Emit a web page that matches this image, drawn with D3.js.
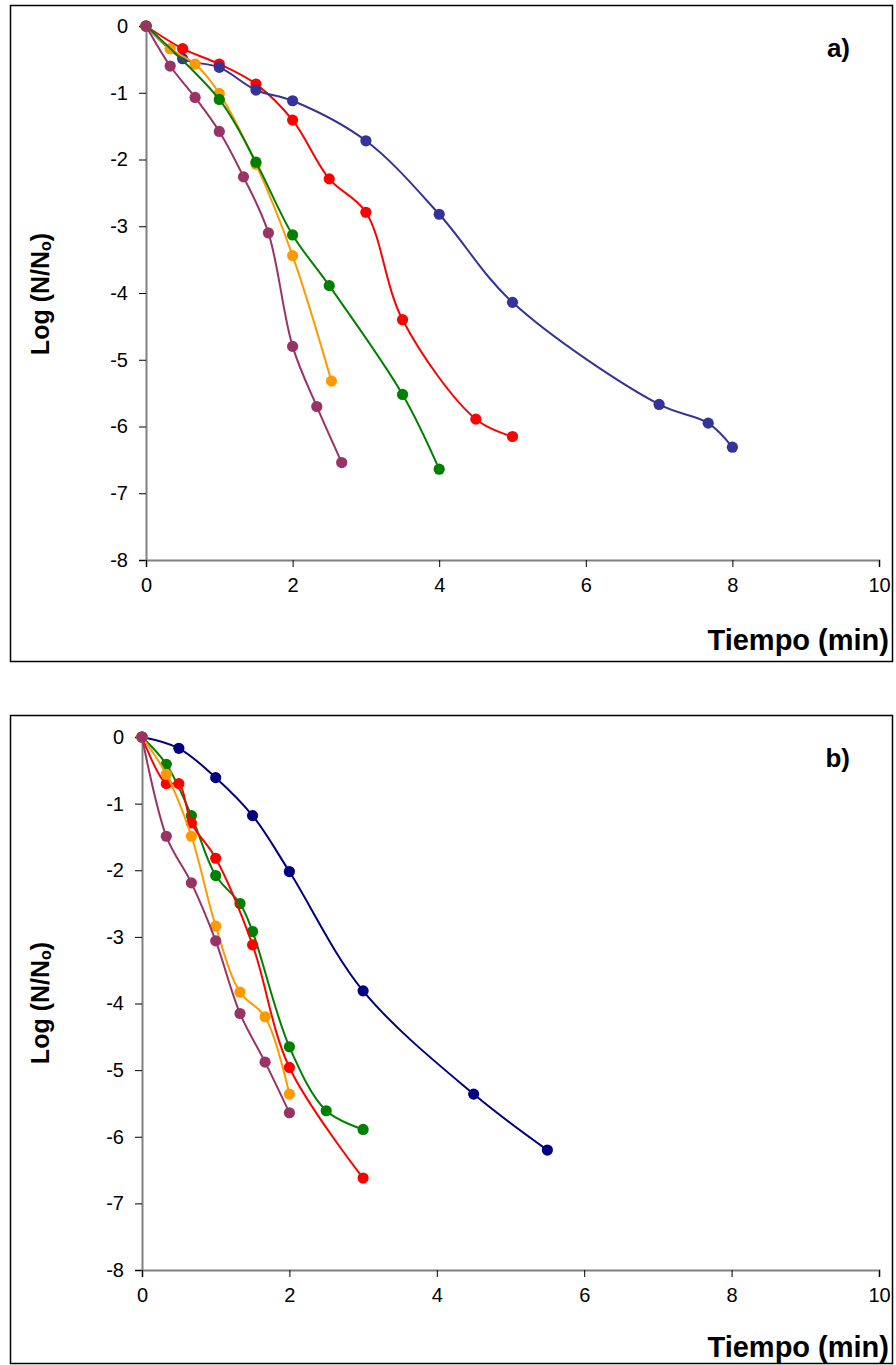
<!DOCTYPE html>
<html>
<head>
<meta charset="utf-8">
<script src="https://cdn.jsdelivr.net/npm/d3@7/dist/d3.min.js"></script>
<style>
  html, body { margin: 0; padding: 0; background: #fff; }
  svg { display: block; font-family: "Liberation Sans", Arial, sans-serif; }
</style>
</head>
<body>
<svg id="chart" width="896" height="1365"></svg>
<script>
// ---------- Data ----------
const xTicks = [0, 2, 4, 6, 8, 10];
const yTicks = [0, -1, -2, -3, -4, -5, -6, -7, -8];

// Panel a)
const aBlueX   = [0, 0.5, 1, 1.5, 2, 3, 4, 5, 7, 7.67, 8];
const aBlueY   = [0, -0.49, -0.62, -0.96, -1.12, -1.72, -2.82, -4.14, -5.67, -5.95, -6.31];
const aRedX    = [0, 0.5, 1, 1.5, 2, 2.5, 3, 3.5, 4.5, 5];
const aRedY    = [0, -0.34, -0.57, -0.87, -1.41, -2.29, -2.79, -4.40, -5.89, -6.15];
const aGreenX  = [0, 1, 1.5, 2, 2.5, 3.5, 4];
const aGreenY  = [0, -1.10, -2.04, -3.13, -3.89, -5.52, -6.64];
const aOrangeX = [0, 0.33, 0.67, 1, 1.5, 2, 2.53];
const aOrangeY = [0, -0.34, -0.57, -1.01, -2.07, -3.44, -5.32];
const aPurpleX = [0, 0.33, 0.67, 1, 1.33, 1.67, 2, 2.33, 2.67];
const aPurpleY = [0, -0.60, -1.07, -1.58, -2.26, -3.10, -4.80, -5.70, -6.54];

// Panel b)
const bNavyX   = [0, 0.5, 1, 1.5, 2, 3, 4.5, 5.5];
const bNavyY   = [0, -0.17, -0.61, -1.18, -2.02, -3.81, -5.36, -6.20];
const bRedX    = [0, 0.33, 0.5, 0.67, 1, 1.5, 2, 3];
const bRedY    = [0, -0.70, -0.70, -1.29, -1.82, -3.12, -4.96, -6.62];
const bGreenX  = [0, 0.33, 0.67, 1, 1.33, 1.5, 2, 2.5, 3];
const bGreenY  = [0, -0.41, -1.18, -2.08, -2.50, -2.92, -4.65, -5.61, -5.89];
const bOrangeX = [0, 0.33, 0.67, 1, 1.33, 1.67, 2];
const bOrangeY = [0, -0.56, -1.49, -2.84, -3.83, -4.20, -5.36];
const bPurpleX = [0, 0.33, 0.67, 1, 1.33, 1.67, 2];
const bPurpleY = [0, -1.49, -2.19, -3.06, -4.15, -4.88, -5.64];

const zip = (xs, ys) => xs.map((x, i) => ({x, y: ys[i]}));

const panels = [
  {
    label: "a)",
    box: {x: 10.5, y: 5.5, w: 882, h: 656},
    xr: [146, 879], yr: [26, 560],
    labelPos: [850, 57], titlePos: [889, 650], yTitlePos: [49, 294],
    series: [
      {color: "#ff0000", pts: zip(aRedX, aRedY)},
      {color: "#333399", pts: zip(aBlueX, aBlueY)},
      {color: "#ff9900", pts: zip(aOrangeX, aOrangeY)},
      {color: "#008000", pts: zip(aGreenX, aGreenY)},
      {color: "#993366", pts: zip(aPurpleX, aPurpleY)}
    ]
  },
  {
    label: "b)",
    box: {x: 10.5, y: 715.5, w: 882, h: 648},
    xr: [142, 879], yr: [737, 1270],
    labelPos: [850, 767], titlePos: [889, 1357], yTitlePos: [49, 1003],
    series: [
      {color: "#000080", pts: zip(bNavyX, bNavyY)},
      {color: "#008000", pts: zip(bGreenX, bGreenY)},
      {color: "#ff0000", pts: zip(bRedX, bRedY)},
      {color: "#ff9900", pts: zip(bOrangeX, bOrangeY)},
      {color: "#993366", pts: zip(bPurpleX, bPurpleY)}
    ]
  }
];

const svg = d3.select("#chart");
const fmt = d => String(d);

panels.forEach(p => {
  const g = svg.append("g");
  g.append("rect")
    .attr("x", p.box.x).attr("y", p.box.y)
    .attr("width", p.box.w).attr("height", p.box.h)
    .attr("fill", "#fff").attr("stroke", "#000").attr("stroke-width", 1.5);

  const x = d3.scaleLinear().domain([0, 10]).range(p.xr);
  const y = d3.scaleLinear().domain([0, -8]).range(p.yr);

  // Y axis
  const ya = g.append("g")
    .attr("transform", `translate(${p.xr[0]},0)`)
    .call(d3.axisLeft(y).tickValues(yTicks).tickFormat(fmt).tickSize(7).tickPadding(11));
  ya.select(".domain").attr("stroke", "#808080").attr("stroke-width", 2);
  ya.selectAll(".tick line").attr("stroke", "#000").attr("stroke-width", 1);
  ya.selectAll(".tick text").attr("font-size", 20).attr("fill", "#000")
    .attr("font-family", "Liberation Sans, Arial, sans-serif");

  // X axis
  const xa = g.append("g")
    .attr("transform", `translate(0,${p.yr[1]})`)
    .call(d3.axisBottom(x).tickValues(xTicks).tickFormat(fmt).tickSize(7).tickPadding(11));
  xa.select(".domain").attr("stroke", "#808080").attr("stroke-width", 2);
  xa.selectAll(".tick line").attr("stroke", "#000").attr("stroke-width", 1);
  xa.selectAll(".tick text").attr("font-size", 20).attr("fill", "#000")
    .attr("font-family", "Liberation Sans, Arial, sans-serif");

  // Series
  const line = d3.line().x(d => x(d.x)).y(d => y(d.y)).curve(d3.curveCatmullRom.alpha(0.5));
  p.series.forEach(s => {
    g.append("path").datum(s.pts)
      .attr("d", line).attr("fill", "none")
      .attr("stroke", s.color).attr("stroke-width", 2);
    g.selectAll(null).data(s.pts).enter().append("circle")
      .attr("cx", d => x(d.x)).attr("cy", d => y(d.y))
      .attr("r", 5.6).attr("fill", s.color);
  });

  // Panel label
  g.append("text").attr("x", p.labelPos[0]).attr("y", p.labelPos[1])
    .attr("text-anchor", "end").attr("font-weight", "bold").attr("font-size", 26)
    .text(p.label);

  // X title
  g.append("text").attr("x", p.titlePos[0]).attr("y", p.titlePos[1])
    .attr("text-anchor", "end").attr("font-weight", "bold").attr("font-size", 29)
    .text("Tiempo (min)");

  // Y title
  const yt = g.append("text")
    .attr("transform", `translate(${p.yTitlePos[0]},${p.yTitlePos[1]}) rotate(-90)`)
    .attr("text-anchor", "middle").attr("font-weight", "bold").attr("font-size", 25);
  yt.append("tspan").text("Log (N/N");
  yt.append("tspan").attr("font-size", 16).attr("dy", 2).text("o");
  yt.append("tspan").attr("dy", -2).text(")");
});
</script>
</body>
</html>
